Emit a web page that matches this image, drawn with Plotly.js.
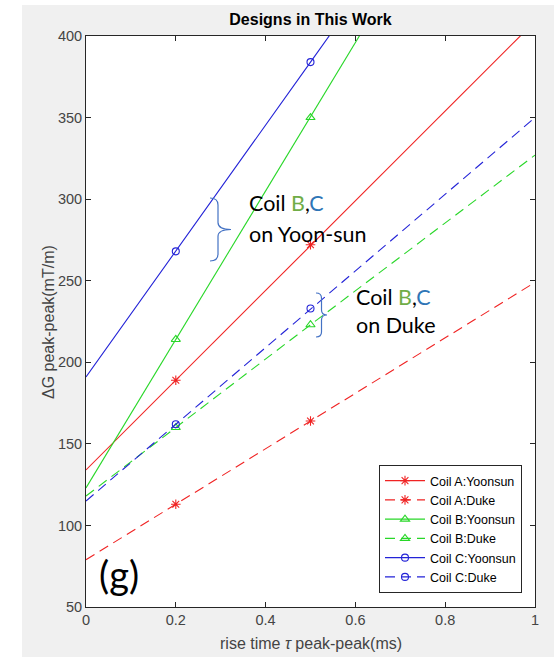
<!DOCTYPE html>
<html>
<head>
<meta charset="utf-8">
<script src="https://cdn.plot.ly/plotly-3.0.1.min.js"></script>
<style>html,body{margin:0;padding:0;background:#fff;}#chart{width:554px;height:657px;}</style>
</head>
<body>
<div id="chart"></div>
<script>
// ---- data ----
const riseTime = [0, 0.2, 0.5, 1];
const markedPoints = [1, 2];   // indices of the points that carry markers (0.2 and 0.5 ms)
const coilAYoonsun = [134, 189, 272, 409];
const coilADuke    = [79, 113, 164, 249];
const coilBYoonsun = [123, 214, 350, 578];
const coilBDuke    = [118, 160, 223, 327];
const coilCYoonsun = [191, 268, 384, 577];
const coilCDuke    = [115, 162, 233, 350];
const seriesNames = ['Coil A:Yoonsun','Coil A:Duke','Coil B:Yoonsun','Coil B:Duke','Coil C:Yoonsun','Coil C:Duke'];
const xTicks = [0, 0.2, 0.4, 0.6, 0.8, 1];
const xTickText = ['0','0.2','0.4','0.6','0.8','1'];
const yTicks = [50, 100, 150, 200, 250, 300, 350, 400];

// ---- styles ----
const RED = 'rgb(240,35,35)', GREEN = 'rgb(40,215,40)', BLUE = 'rgb(35,35,215)';
const DASH = '10px,6px';
const styles = [
  {c: RED, dash: 'solid', sym: 'asterisk-open', ms: 8},
  {c: RED, dash: DASH, sym: 'asterisk-open', ms: 8},
  {c: GREEN, dash: 'solid', sym: 'triangle-up-open', ms: 8},
  {c: GREEN, dash: DASH, sym: 'triangle-up-open', ms: 8},
  {c: BLUE, dash: 'solid', sym: 'circle-open', ms: 7},
  {c: BLUE, dash: DASH, sym: 'circle-open', ms: 7}
];
const allSeries = [coilAYoonsun, coilADuke, coilBYoonsun, coilBDuke, coilCYoonsun, coilCDuke];

const traces = allSeries.map((ys, i) => {
  const s = styles[i];
  return {
    x: riseTime, y: ys, type: 'scatter', mode: 'lines+markers', name: seriesNames[i],
    line: {color: s.c, width: 1.1, dash: s.dash},
    marker: {symbol: s.sym, size: s.ms, color: s.c, line: {color: s.c, width: 1.1}},
    selectedpoints: markedPoints,
    selected: {marker: {opacity: 1}},
    unselected: {marker: {opacity: 0}}
  };
});

// ---- geometry helpers for decorations ----
const L = 86, R = 535, T = 36, B = 607;
const X0 = 0, X1 = 1, Y0 = 50, Y1 = 400;
function dx(px) { return X0 + (px - L) / (R - L) * (X1 - X0); }
function dy(py) { return Y0 + (B - py) / (B - T) * (Y1 - Y0); }
function brace(xl, xm, xt, yt, yb, r) {
  const ym = (yt + yb) / 2;
  const p = (a, b) => dx(a) + ',' + dy(b);
  return 'M' + p(xl, yt) + ' Q' + p(xm, yt) + ' ' + p(xm, yt + r) +
         ' L' + p(xm, ym - r) + ' Q' + p(xm, ym) + ' ' + p(xt, ym) +
         ' Q' + p(xm, ym) + ' ' + p(xm, ym + r) +
         ' L' + p(xm, yb - r) + ' Q' + p(xm, yb) + ' ' + p(xl, yb);
}
function pX(px) { return (px - L) / (R - L); }
function pY(py) { return (B - py) / (B - T); }

const BRACE = '#4472C4';
const annFont = {family: 'Lato, "Open Sans", sans-serif', size: 21.5, color: '#000'};
const bSpan = '<span style="color:#70AD47">B</span>';
const cSpan = '<span style="color:#2E75B6">C</span>';
const AXC = '#262626';
const TXC = '#444444';

const layout = {
  width: 554, height: 657,
  paper_bgcolor: '#f0f0f0', plot_bgcolor: '#ffffff',
  margin: {l: L, r: 554 - R, t: T, b: 657 - B},
  font: {family: '"Liberation Sans", Arial, sans-serif', size: 14.5, color: TXC},
  showlegend: true,
  title: {text: '<b>Designs in This Work</b>', font: {size: 16, color: '#000'},
          x: pX(310.5), xref: 'paper', xanchor: 'center', y: 1 - 19 / 657, yanchor: 'middle', yref: 'container'},
  xaxis: {
    range: [X0, X1], tickvals: xTicks, ticktext: xTickText,
    ticks: 'inside', ticklen: 5, tickcolor: AXC, tickwidth: 1,
    showline: true, linecolor: AXC, linewidth: 1, mirror: 'ticks',
    showgrid: false, zeroline: false, tickfont: {color: TXC}
  },
  yaxis: {
    range: [Y0, Y1], tickvals: yTicks,
    ticks: 'inside', ticklen: 5, tickcolor: AXC, tickwidth: 1,
    showline: true, linecolor: AXC, linewidth: 1, mirror: 'ticks',
    showgrid: false, zeroline: false, tickfont: {color: TXC}
  },
  legend: {
    x: pX(522), y: pY(593), xanchor: 'right', yanchor: 'bottom',
    bgcolor: '#ffffff', bordercolor: AXC, borderwidth: 1,
    font: {size: 12.5, color: '#000', family: '"Liberation Sans", Arial, sans-serif'},
    tracegroupgap: 0, itemwidth: 40
  },
  shapes: [
    {type: 'rect', xref: 'paper', yref: 'paper', layer: 'below',
     x0: pX(0), x1: pX(22), y0: pY(657), y1: pY(0),
     fillcolor: '#ffffff', line: {width: 0}},
    {type: 'rect', xref: 'paper', yref: 'paper', layer: 'below',
     x0: pX(0), x1: pX(554), y0: pY(5), y1: pY(0),
     fillcolor: '#ffffff', line: {width: 0}},
    {type: 'path', xref: 'x', yref: 'y', path: brace(210, 218, 231, 198, 261, 7),
     line: {color: BRACE, width: 1.2}},
    {type: 'path', xref: 'x', yref: 'y', path: brace(316, 321.5, 327, 293, 337, 5),
     line: {color: BRACE, width: 1.2}}
  ],
  annotations: [
    // axis titles
    {x: pX(310.5), y: pY(643), xref: 'paper', yref: 'paper', xanchor: 'center', yanchor: 'middle',
     text: 'rise time <i>τ</i> peak-peak(ms)', showarrow: false, font: {size: 16, color: TXC}},
    {x: pX(48), y: pY(322), xref: 'paper', yref: 'paper', xanchor: 'center', yanchor: 'middle',
     textangle: -90, text: 'ΔG peak-peak(mT/m)', showarrow: false, font: {size: 16, color: TXC}},
    // text annotations in the plot
    {x: dx(247), y: dy(203), xref: 'x', yref: 'y', xanchor: 'left', yanchor: 'middle',
     text: 'Coil ' + bSpan + ',' + cSpan, showarrow: false, font: annFont},
    {x: dx(247), y: dy(234), xref: 'x', yref: 'y', xanchor: 'left', yanchor: 'middle',
     text: 'on Yoon-sun', showarrow: false, font: annFont},
    {x: dx(354), y: dy(297), xref: 'x', yref: 'y', xanchor: 'left', yanchor: 'middle',
     text: 'Coil ' + bSpan + ',' + cSpan, showarrow: false, font: annFont},
    {x: dx(354), y: dy(325), xref: 'x', yref: 'y', xanchor: 'left', yanchor: 'middle',
     text: 'on Duke', showarrow: false, font: annFont},
    {x: dx(97), y: dy(574), xref: 'x', yref: 'y', xanchor: 'left', yanchor: 'middle',
     text: '(g)', showarrow: false, font: {family: 'Lato, "Open Sans", sans-serif', size: 38, color: '#000'}}
  ]
};

Plotly.newPlot('chart', traces, layout, {staticPlot: true, displayModeBar: false});
</script>
</body>
</html>
